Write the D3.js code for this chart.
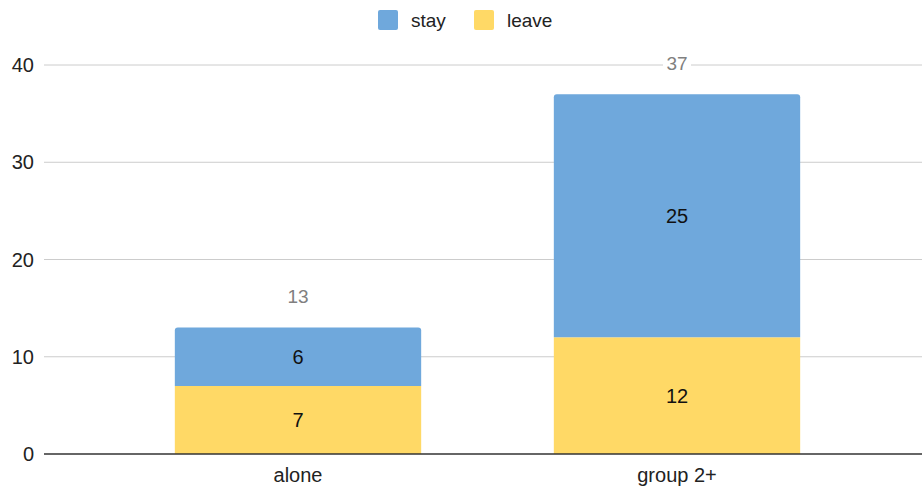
<!DOCTYPE html>
<html>
<head>
<meta charset="utf-8">
<script src="https://cdn.jsdelivr.net/npm/d3@7"></script>
<style>
  body { margin: 0; background: #fff; }
  text { font-family: "Liberation Sans", Arial, sans-serif; }
</style>
</head>
<body>
<div id="chart"></div>
<script>
var categories = ["alone", "group 2+"];
var seriesNames = ["leave", "stay"];
var leaveValues = [7, 12];
var stayValues = [6, 25];
var yTicks = [0, 10, 20, 30, 40];

var width = 922, height = 487;
var colors = { stay: "#6fa8dc", leave: "#ffd966" };

var svg = d3.select("#chart").append("svg")
  .attr("width", width).attr("height", height);

// scales
var x = d3.scaleBand().domain(categories).range([108.5, 866.5])
  .paddingInner(0.35).paddingOuter(0.175);
var y = d3.scaleLinear().domain([0, 40]).range([454, 65]);

// gridlines
svg.append("g").selectAll("line").data(yTicks.filter(function(d){ return d > 0; }))
  .enter().append("line")
  .attr("x1", 44).attr("x2", width)
  .attr("y1", function(d){ return y(d); }).attr("y2", function(d){ return y(d); })
  .attr("stroke", "#cccccc").attr("stroke-width", 1);

// y tick labels
svg.append("g").selectAll("text").data(yTicks).enter().append("text")
  .attr("x", 34).attr("y", function(d){ return y(d); })
  .attr("dy", "0.36em").attr("text-anchor", "end")
  .attr("font-size", 20).attr("fill", "#222")
  .text(function(d){ return d; });

var rows = categories.map(function(c, i){
  return { cat: c, leave: leaveValues[i], stay: stayValues[i] };
});
var stacked = d3.stack().keys(seriesNames)(rows);

// bars
stacked.forEach(function(layer){
  var g = svg.append("g");
  layer.forEach(function(d){
    var x0 = x(d.data.cat), w = x.bandwidth();
    var top = y(d[1]), bot = y(d[0]);
    if (layer.key === "stay") {
      var r = 3;
      g.append("path")
        .attr("d", "M" + x0 + "," + bot + "V" + (top + r) +
          "Q" + x0 + "," + top + " " + (x0 + r) + "," + top +
          "H" + (x0 + w - r) + "Q" + (x0 + w) + "," + top + " " + (x0 + w) + "," + (top + r) +
          "V" + bot + "Z")
        .attr("fill", colors.stay);
    } else {
      g.append("rect").attr("x", x0).attr("y", top)
        .attr("width", w).attr("height", bot - top)
        .attr("fill", colors[layer.key]);
    }
    g.append("text")
      .attr("x", x0 + w / 2).attr("y", (top + bot) / 2)
      .attr("dy", "0.36em").attr("text-anchor", "middle")
      .attr("font-size", 20).attr("fill", "#111")
      .text(d[1] - d[0]);
  });
});

// totals
rows.forEach(function(d){
  var tot = d.leave + d.stay;
  var cx = x(d.cat) + x.bandwidth() / 2, ty = y(tot) - 31;
  svg.append("rect").attr("x", cx - 14).attr("y", ty - 11)
    .attr("width", 28).attr("height", 22).attr("fill", "#fff");
  svg.append("text").attr("x", cx).attr("y", ty)
    .attr("dy", "0.36em").attr("text-anchor", "middle")
    .attr("font-size", 19).attr("fill", "#808080")
    .text(tot);
});

// baseline
svg.append("line").attr("x1", 44).attr("x2", width)
  .attr("y1", y(0)).attr("y2", y(0))
  .attr("stroke", "#333").attr("stroke-width", 1.3);

// x axis labels
svg.append("g").selectAll("text").data(categories).enter().append("text")
  .attr("x", function(d){ return x(d) + x.bandwidth() / 2; })
  .attr("y", 475).attr("dy", "0.36em").attr("text-anchor", "middle")
  .attr("font-size", 20).attr("fill", "#222")
  .text(function(d){ return d; });

// legend
var legendItems = [{ k: "stay", x: 378 }, { k: "leave", x: 474 }];
var lg = svg.append("g");
legendItems.forEach(function(it){
  lg.append("rect").attr("x", it.x).attr("y", 10).attr("width", 20).attr("height", 20)
    .attr("rx", 2).attr("fill", colors[it.k]);
  lg.append("text").attr("x", it.x + 33).attr("y", 20).attr("dy", "0.36em")
    .attr("font-size", 19).attr("fill", "#222").text(it.k);
});
</script>
</body>
</html>
